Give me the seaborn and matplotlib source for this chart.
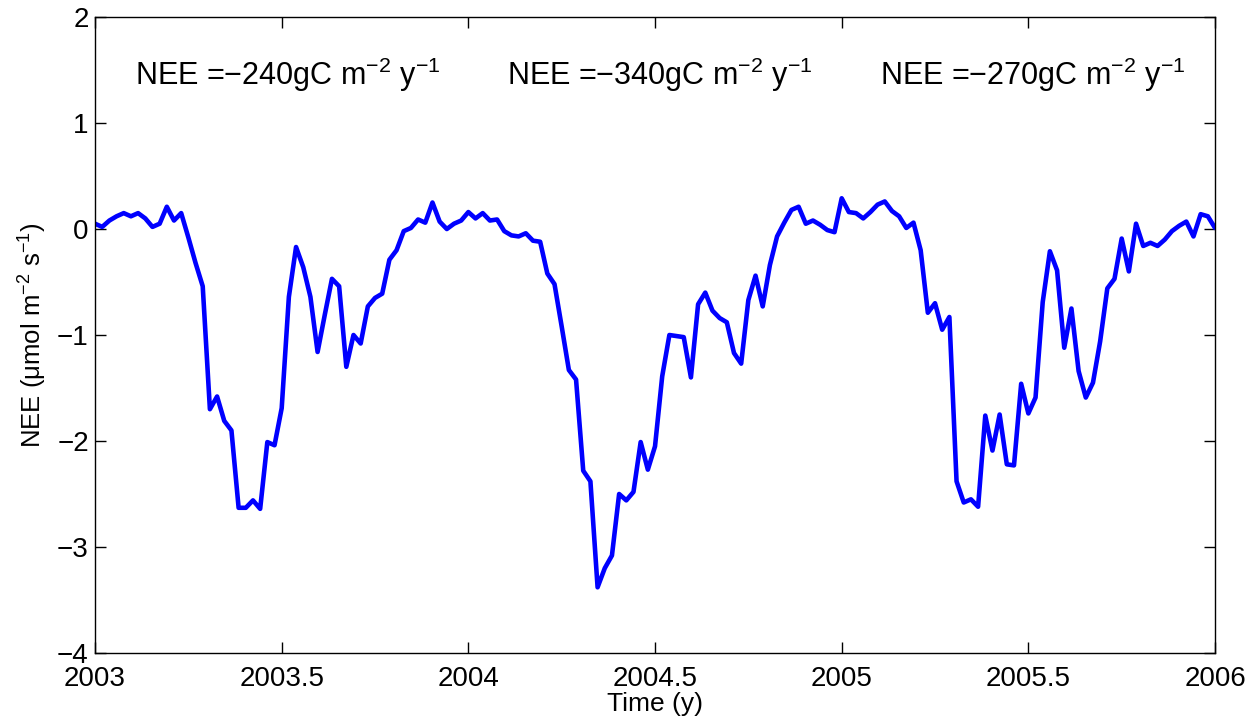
import numpy as np
import pandas as pd
import matplotlib
matplotlib.use("Agg")
import matplotlib.pyplot as plt
import seaborn as sns

# Weekly net ecosystem exchange, 2003-2006 (umol m-2 s-1)
nee_2003 = [
    0.05, 0.02, 0.08, 0.12, 0.15, 0.12, 0.15, 0.10, 0.02, 0.05,
    0.21, 0.08, 0.15, -0.08, -0.32, -0.54, -1.70, -1.58, -1.81, -1.90,
    -2.63, -2.63, -2.56, -2.64, -2.01, -2.04, -1.69, -0.64, -0.17, -0.36,
    -0.64, -1.16, -0.81, -0.47, -0.54, -1.30, -1.00, -1.08, -0.73, -0.65,
    -0.61, -0.29, -0.20, -0.02, 0.01, 0.09, 0.06, 0.25, 0.07, 0.00,
    0.05, 0.08,
]
nee_2004 = [
    0.16, 0.10, 0.15, 0.08, 0.09, -0.02, -0.06, -0.07, -0.04, -0.11,
    -0.12, -0.42, -0.52, -0.92, -1.33, -1.42, -2.28, -2.38, -3.38, -3.20,
    -3.08, -2.50, -2.56, -2.48, -2.01, -2.27, -2.05, -1.39, -1.00, -1.01,
    -1.02, -1.40, -0.71, -0.60, -0.77, -0.84, -0.88, -1.17, -1.27, -0.67,
    -0.44, -0.73, -0.34, -0.07, 0.06, 0.18, 0.21, 0.05, 0.08, 0.04,
    -0.01, -0.03,
]
nee_2005 = [
    0.29, 0.16, 0.15, 0.10, 0.16, 0.23, 0.26, 0.17, 0.12, 0.01,
    0.06, -0.20, -0.79, -0.70, -0.95, -0.83, -2.38, -2.58, -2.55, -2.62,
    -1.76, -2.09, -1.75, -2.22, -2.23, -1.46, -1.74, -1.59, -0.69, -0.21,
    -0.39, -1.12, -0.75, -1.34, -1.59, -1.45, -1.06, -0.56, -0.47, -0.09,
    -0.40, 0.05, -0.16, -0.13, -0.16, -0.10, -0.02, 0.03, 0.07, -0.07,
    0.14, 0.12, 0.01,
]
annual_labels = [
    r"NEE =$-$240gC m$^{-2}$ y$^{-1}$",
    r"NEE =$-$340gC m$^{-2}$ y$^{-1}$",
    r"NEE =$-$270gC m$^{-2}$ y$^{-1}$",
]
label_years = [2003.517, 2004.513, 2005.513]
label_level = 1.45

x_ticks = [2003, 2003.5, 2004, 2004.5, 2005, 2005.5, 2006]
x_tick_labels = ["2003", "2003.5", "2004", "2004.5", "2005", "2005.5", "2006"]
y_ticks = [-4, -3, -2, -1, 0, 1, 2]

nee = np.array(nee_2003 + nee_2004 + nee_2005)
# sample times, evenly spaced weeks across the three years
time = 2003 + np.arange(len(nee)) * 3.0 / (len(nee) - 1)
df = pd.DataFrame({"time": time, "nee": nee})

sns.set_theme(style="white")
plt.rcParams["font.family"] = ["Liberation Sans", "DejaVu Sans"]
plt.rcParams["mathtext.fontset"] = "custom"
plt.rcParams["mathtext.rm"] = "Liberation Sans"
plt.rcParams["mathtext.it"] = "Liberation Sans:italic"
plt.rcParams["mathtext.default"] = "regular"
plt.rcParams["axes.unicode_minus"] = True
plt.rcParams["axes.labelcolor"] = "black"
plt.rcParams["text.color"] = "black"

fig = plt.figure(figsize=(12.57, 7.21), dpi=100)
ax = fig.add_axes([0.0756, 0.0943, 0.8910, 0.8821])

sns.lineplot(data=df, x="time", y="nee", color="#0000ff", linewidth=3.3, ax=ax)

for yr, txt in zip(label_years, annual_labels):
    ax.text(yr, label_level, txt, ha="center", va="center", fontsize=22, color="black")

ax.set_xlim(2003, 2006)
ax.set_ylim(-4, 2)
ax.set_xticks(x_ticks)
ax.set_xticklabels(x_tick_labels)
ax.set_yticks(y_ticks)
ax.set_yticklabels([f"{v}".replace("-", "\u2212") for v in y_ticks])

ax.tick_params(axis="both", direction="in", length=8, width=1, color="black",
               labelsize=20, labelcolor="black", top=True, right=True,
               bottom=True, left=True)
ax.tick_params(axis="x", pad=9)
ax.tick_params(axis="y", pad=4.5)

for s in ax.spines.values():
    s.set_visible(True)
    s.set_color("black")
    s.set_linewidth(1.0)

ax.set_xlabel("Time (y)", fontsize=19, labelpad=0)
ax.set_ylabel("NEE (\u03bcmol m$^{-2}$ s$^{-1}$)", fontsize=18.5, labelpad=6)
ax.grid(False)

fig.savefig("out.png", dpi=100, facecolor="white")
